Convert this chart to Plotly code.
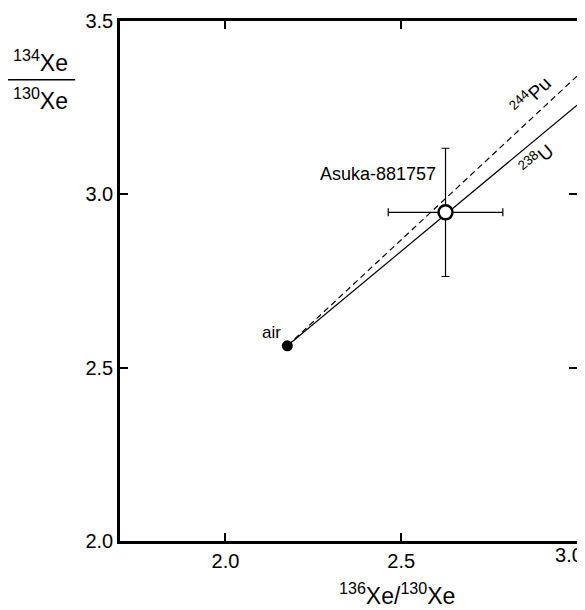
import plotly.graph_objects as go

# Data
air_x = [2.176]
air_y = [2.563]
asuka_x = [2.626]
asuka_y = [2.948]
asuka_xerr = [0.163]
asuka_yerr = [0.185]
line_x = [2.176, 3.0]
u238_y = [2.563, 3.257]
pu244_y = [2.563, 3.341]
x_ticks = [2.0, 2.5, 3.0]
x_ticktext = ["2.0", "2.5", ""]
x_end_tick = [3.0]
x_end_ticktext = ["3.0"]
y_ticks = [2.0, 2.5, 3.0, 3.5]
y_ticktext = ["2.0", "2.5", "3.0", "3.5"]
x_range = [1.7, 3.0]
y_range = [2.0, 3.5]

FONT = "Liberation Sans"
fig = go.Figure()

fig.add_trace(go.Scatter(x=line_x, y=pu244_y, mode="lines",
                         line=dict(color="black", width=1.2, dash="6px,4px"), hoverinfo="skip"))
fig.add_trace(go.Scatter(x=line_x, y=u238_y, mode="lines",
                         line=dict(color="black", width=1.2), hoverinfo="skip"))
fig.add_trace(go.Scatter(x=air_x, y=air_y, mode="markers",
                         marker=dict(color="black", size=11)))
fig.add_trace(go.Scatter(x=asuka_x, y=asuka_y, mode="markers",
                         marker=dict(color="white", size=14, line=dict(color="black", width=2.5)),
                         error_x=dict(type="data", array=asuka_xerr, color="black", thickness=1.2, width=4),
                         error_y=dict(type="data", array=asuka_yerr, color="black", thickness=1.2, width=4)))
# empty trace so the overlaid axis carrying the last x tick label is drawn
fig.add_trace(go.Scatter(x=[], y=[], xaxis="x2", yaxis="y", hoverinfo="skip"))

axis_common = dict(showline=True, linecolor="black", linewidth=2.5, mirror="ticks",
                   ticks="inside", ticklen=8, tickwidth=2, tickcolor="black",
                   showgrid=False, zeroline=False, automargin=False,
                   tickfont=dict(family=FONT, size=20, color="black"))

fig.update_layout(
    xaxis=dict(range=x_range, tickvals=x_ticks, ticktext=x_ticktext, **axis_common),
    yaxis=dict(range=y_range, tickvals=y_ticks, ticktext=y_ticktext, **axis_common),
    xaxis2=dict(range=x_range, overlaying="x", anchor="y", side="bottom",
                tickvals=x_end_tick, ticktext=x_end_ticktext, ticks="", ticklen=8,
                showline=False, showgrid=False, zeroline=False, automargin=False,
                ticklabelshift=-8, ticklabeloverflow="allow",
                tickfont=dict(family=FONT, size=20, color="black")),
)

anns = []
anns.append(dict(x=2.163, y=2.602, text="air", showarrow=False, xanchor="right", yanchor="middle",
                 font=dict(family=FONT, size=17, color="black")))
anns.append(dict(x=2.606, y=3.06, text="Asuka-881757", showarrow=False, xanchor="right", yanchor="middle",
                 font=dict(family=FONT, size=18, color="black")))
anns.append(dict(x=2.868, y=3.286, text="<sup>244</sup>Pu", showarrow=False, textangle=-44,
                 font=dict(family=FONT, size=19, color="black")))
anns.append(dict(x=2.884, y=3.103, text="<sup>238</sup>U", showarrow=False, textangle=-41,
                 font=dict(family=FONT, size=19, color="black")))
# x title
anns.append(dict(x=0.606, y=-0.102, xref="paper", yref="paper", showarrow=False, yanchor="middle",
                 xanchor="center",
                 text="<sup>136</sup>Xe/<sup>130</sup>Xe", font=dict(family=FONT, size=23, color="black")))
# y title fraction
anns.append(dict(x=-0.173, y=0.890, xref="paper", yref="paper", showarrow=False, yanchor="bottom",
                 xanchor="center", text="<sup>134</sup>Xe", font=dict(family=FONT, size=23, color="black")))
anns.append(dict(x=-0.173, y=0.882, xref="paper", yref="paper", showarrow=False, yanchor="top",
                 xanchor="center", text="<sup>130</sup>Xe", font=dict(family=FONT, size=23, color="black")))
fig.update_layout(annotations=anns)
fig.add_shape(type="line", xref="paper", yref="paper", x0=-0.245, x1=-0.098, y0=0.887, y1=0.887,
              line=dict(color="black", width=1.5))

# page body adds an 8px offset
fig.update_layout(width=577, height=602, showlegend=False,
                  margin=dict(l=112, r=8, t=13, b=69),
                  plot_bgcolor="white", paper_bgcolor="white")

fig.write_html("out.html")
